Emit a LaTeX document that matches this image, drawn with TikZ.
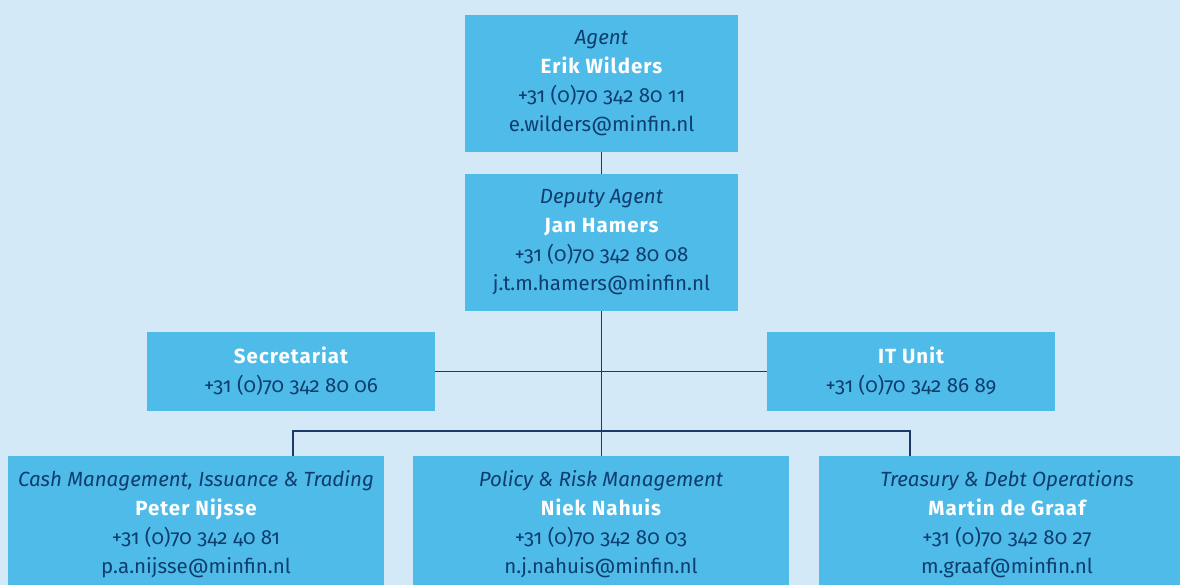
\documentclass[tikz,border=0pt]{standalone}
\usepackage{fontspec}
\setmainfont{Fira Sans}[Numbers=OldStyle]
\definecolor{bgblue}{HTML}{D3E9F8}
\definecolor{boxblue}{HTML}{4FBBE9}
\definecolor{navy}{HTML}{0E3D6E}
\definecolor{linec}{HTML}{1B3B66}
\newcommand{\ttl}[1]{{\itshape #1}}
\newcommand{\nm}[1]{{\bfseries\addfontfeatures{LetterSpace=5}\color{white}#1}}
\begin{document}
\begin{tikzpicture}[x=1pt,y=-1pt,
  box/.style={fill=boxblue, draw=none, inner sep=0pt, align=center, text=navy,
    font=\fontsize{20.5}{29}\selectfont},
  conn/.style={draw=linec, line width=1.6pt}]
\useasboundingbox (0,0) rectangle (1180,585);
\clip (0,0) rectangle (1180,585);
\fill[bgblue] (0,0) rectangle (1180,585);
\node[box, minimum width=273pt, minimum height=137pt] (agent) at (601.5,83.5)
  {\ttl{Agent}\\ \nm{Erik Wilders}\\ +31 (0)70 342 80 11\\ e.wilders@minfin.nl};
\node[box, minimum width=273pt, minimum height=137pt] (deputy) at (601.5,242.5)
  {\ttl{Deputy Agent}\\ \nm{Jan Hamers}\\ +31 (0)70 342 80 08\\ j.t.m.hamers@minfin.nl};
\node[box, minimum width=288pt, minimum height=79pt] (sec) at (291,371.5)
  {\nm{Secretariat}\\ +31 (0)70 342 80 06};
\node[box, minimum width=288pt, minimum height=79pt] (it) at (911,371.5)
  {\nm{IT Unit}\\ +31 (0)70 342 86 89};
\node[box, minimum width=376pt, minimum height=137pt] (cash) at (196,524.5)
  {\ttl{Cash Management, Issuance \& Trading}\\ \nm{Peter Nijsse}\\ +31 (0)70 342 40 81\\ p.a.nijsse@minfin.nl};
\node[box, minimum width=376pt, minimum height=137pt] (policy) at (601,524.5)
  {\ttl{Policy \& Risk Management}\\ \nm{Niek Nahuis}\\ +31 (0)70 342 80 03\\ n.j.nahuis@minfin.nl};
\node[box, minimum width=376pt, minimum height=137pt] (treas) at (1007,524.5)
  {\ttl{Treasury \& Debt Operations}\\ \nm{Martin de Graaf}\\ +31 (0)70 342 80 27\\ m.graaf@minfin.nl};
\coordinate (busL) at (293,431);
\coordinate (busR) at (910,431);
\draw[conn] (agent.south) -- (deputy.north);
\draw[conn] (deputy.south) -- (deputy.south |- policy.north);
\draw[conn] (sec.east) -- (it.west);
\draw[conn] (busL |- cash.north) -- (busL) -- (busR) -- (busR |- treas.north);
\end{tikzpicture}
\end{document}
